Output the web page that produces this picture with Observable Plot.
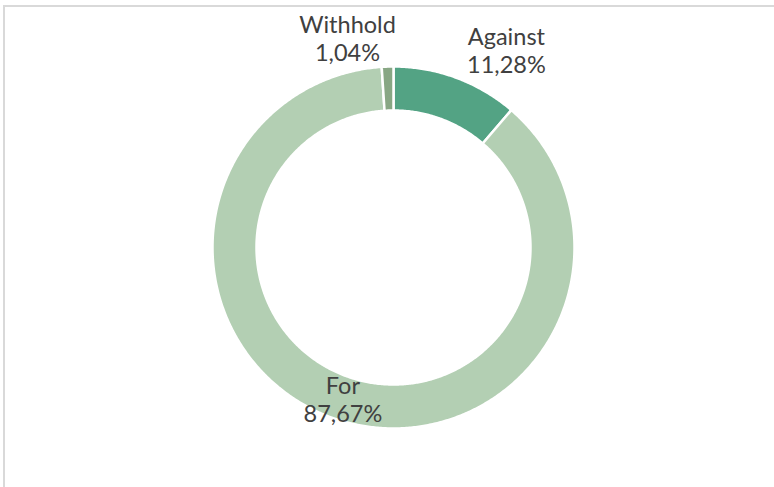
<!DOCTYPE html>
<html>
<head>
<meta charset="utf-8">
<script src="https://cdn.jsdelivr.net/npm/d3@7"></script>
<script src="https://cdn.jsdelivr.net/npm/@observablehq/plot@0.6"></script>
<style>
  html, body { margin: 0; padding: 0; background: #fff; overflow: hidden; }
  #wrap { position: relative; width: 774px; height: 487px; }
  #frame { position: absolute; left: 3px; top: 5px; width: 800px; height: 600px;
           border-top: 2px solid #d9d9d9; border-left: 2px solid #d9d9d9; }
  #chart { position: absolute; left: 0; top: 0; }
</style>
</head>
<body>
<div id="wrap"><div id="frame"></div><div id="chart"></div></div>
<script>
// Data
const categories = ["Against", "For", "Withhold"];
const shares = [11.28, 87.67, 1.04];
const colors = ["#53a384", "#b3cfb3", "#88a784"];

// Layout (not data)
const innerR = 137 / 180, outerR = 181 / 180;
const labelPlacement = {
  Against: {r: 1.262, deg: 29.8},
  For: {r: 0.889, deg: null},     // null = slice mid-angle
  Withhold: {r: 1.19, deg: -12.4}
};

const total = d3.sum(shares);
const fmt = v => v.toFixed(2).replace(".", ",") + "%";

// Build slice polygons from the data (angle measured clockwise from 12 o'clock)
const polys = [];
const labels = [];
let acc = 0;
categories.forEach((c, i) => {
  const a0 = acc / total * 2 * Math.PI;
  acc += shares[i];
  const a1 = acc / total * 2 * Math.PI;
  const n = Math.max(2, Math.ceil((a1 - a0) / (Math.PI / 360)));
  for (let k = 0; k <= n; k++) {
    const a = a0 + (a1 - a0) * k / n;
    polys.push({cat: c, x: outerR * Math.sin(a), y: outerR * Math.cos(a)});
  }
  for (let k = n; k >= 0; k--) {
    const a = a0 + (a1 - a0) * k / n;
    polys.push({cat: c, x: innerR * Math.sin(a), y: innerR * Math.cos(a)});
  }
  const p = labelPlacement[c];
  const am = p.deg == null ? (a0 + a1) / 2 : p.deg * Math.PI / 180;
  labels.push({cat: c, text: c + "\n" + fmt(shares[i]), x: p.r * Math.sin(am), y: p.r * Math.cos(am)});
});

const chart = Plot.plot({
  width: 774,
  height: 487,
  marginLeft: 213,
  marginRight: 201,
  marginTop: 67,
  marginBottom: 60,
  x: {domain: [-1, 1], axis: null},
  y: {domain: [-1, 1], axis: null},
  color: {domain: categories, range: colors},
  style: {fontFamily: "Lato, sans-serif", background: "transparent", overflow: "visible"},
  marks: [
    Plot.line(polys, {x: "x", y: "y", z: "cat", fill: "cat", stroke: "white", strokeWidth: 2.5, curve: "linear-closed"}),
    Plot.text(labels, {x: "x", y: "y", text: "text", fill: "#404040", fontSize: 23.5, lineHeight: 1.16, textAnchor: "middle", lineAnchor: "middle"})
  ]
});
document.getElementById("chart").appendChild(chart);
</script>
</body>
</html>
